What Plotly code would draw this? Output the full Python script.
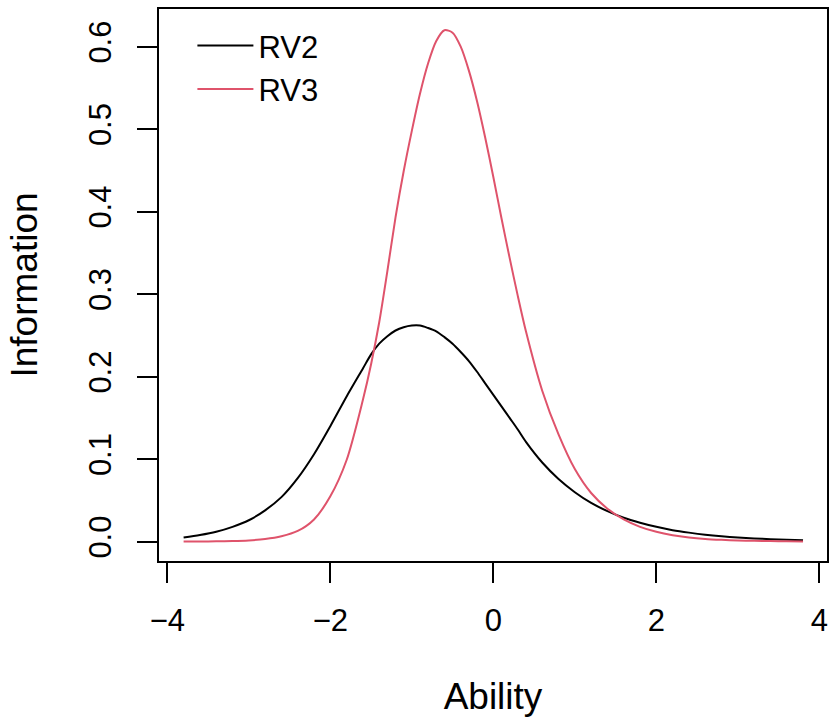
import plotly.graph_objects as go

ability = [-3.8, -3.6, -3.4, -3.2, -3.0, -2.8, -2.6, -2.4, -2.2, -2.0,
           -1.8, -1.6, -1.5, -1.4, -1.3, -1.2, -1.1, -1.0, -0.9, -0.8,
           -0.7, -0.6, -0.5, -0.4, -0.3, -0.2, -0.1, 0.0, 0.1, 0.2,
           0.3, 0.4, 0.6, 0.8, 1.0, 1.2, 1.4, 1.6, 1.8, 2.0,
           2.2, 2.4, 2.6, 2.8, 3.0, 3.2, 3.4, 3.6, 3.8]

rv2 = [0.005, 0.008, 0.012, 0.018, 0.026, 0.038, 0.054, 0.077, 0.106, 0.140,
       0.176, 0.210, 0.227, 0.240, 0.249, 0.256, 0.260, 0.262, 0.262, 0.259,
       0.255, 0.248, 0.240, 0.230, 0.219, 0.206, 0.192, 0.178, 0.164, 0.150,
       0.136, 0.121, 0.096, 0.076, 0.060, 0.047, 0.037, 0.029, 0.023, 0.018,
       0.014, 0.011, 0.0085, 0.0066, 0.0051, 0.0040, 0.0031, 0.0024, 0.0019]

rv3 = [0.0001, 0.0002, 0.0004, 0.0008, 0.0016, 0.0032, 0.0065, 0.013, 0.027, 0.055,
       0.099, 0.172, 0.215, 0.266, 0.328, 0.393, 0.449, 0.498, 0.543, 0.580,
       0.607, 0.620, 0.617, 0.600, 0.571, 0.534, 0.490, 0.442, 0.392, 0.344,
       0.298, 0.255, 0.183, 0.130, 0.088, 0.059, 0.040, 0.027, 0.018, 0.012,
       0.0079, 0.0052, 0.0034, 0.0023, 0.0015, 0.0010, 0.0007, 0.0004, 0.0003]

series_names = ["RV2", "RV3"]
series_colors = ["#000000", "#DF536B"]

x_ticks = [-4, -2, 0, 2, 4]
x_ticktext = ["\u22124", "\u22122", "0", "2", "4"]
y_ticks = [0.0, 0.1, 0.2, 0.3, 0.4, 0.5, 0.6]
y_ticktext = ["0.0", "0.1", "0.2", "0.3", "0.4", "0.5", "0.6"]

FONT = "Liberation Sans, Arial, Helvetica, sans-serif"
FS = 31

fig = go.Figure()
for name, ys, col in zip(series_names, [rv2, rv3], series_colors):
    fig.add_trace(go.Scatter(
        x=ability, y=ys, mode="lines", name=name,
        line=dict(color=col, width=2, shape="spline", smoothing=0.8),
    ))

fig.update_layout(
    width=830, height=720,
    margin=dict(l=159, r=3, t=9, b=159, autoexpand=False),
    paper_bgcolor="white", plot_bgcolor="white",
    font=dict(family=FONT, size=FS, color="black"),
    showlegend=True,
    legend=dict(
        x=0.05, y=0.982, xanchor="left", yanchor="top",
        bgcolor="rgba(0,0,0,0)", borderwidth=0,
        font=dict(size=FS), itemwidth=56, tracegroupgap=0,
    ),
    xaxis=dict(
        range=[-4.102, 4.094], tickvals=x_ticks, ticktext=x_ticktext,
        ticks="outside", ticklen=20, tickwidth=2, tickcolor="black",
        showline=True, linewidth=2, linecolor="black", mirror=True,
        showgrid=False, zeroline=False, ticklabelstandoff=11, automargin=False,
        title=dict(text="Ability", standoff=46),
    ),
    yaxis=dict(
        range=[-0.0234, 0.6457], tickvals=y_ticks, ticktext=y_ticktext,
        ticks="outside", ticklen=20, tickwidth=2, tickcolor="black",
        showline=True, linewidth=2, linecolor="black", mirror=True,
        showgrid=False, zeroline=False, tickangle=-90, ticklabelstandoff=14,
        automargin=False,
        title=dict(text="Information", standoff=34),
    ),
)

fig.write_html(
    "out.html",
    config={"displayModeBar": False},
    post_script="document.body.style.margin='0';document.body.style.overflow='hidden';",
)
